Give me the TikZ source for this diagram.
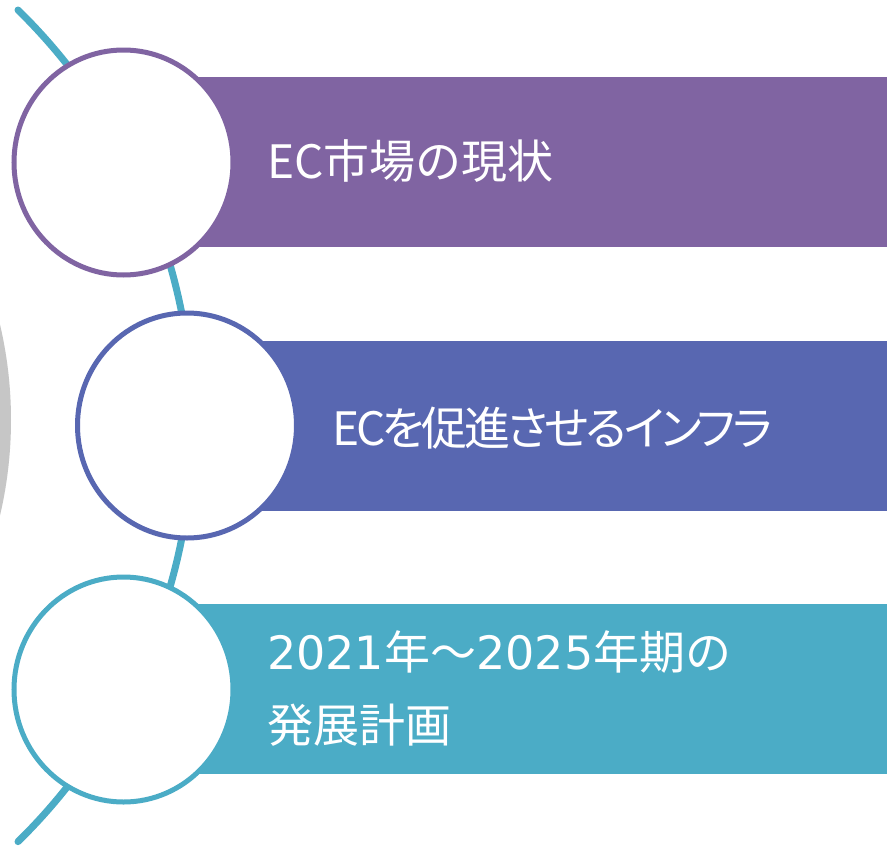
\documentclass[tikz,border=0pt]{standalone}
\usepackage{fontspec}
\newfontfamily\cjk{Noto Sans CJK JP}
\newfontfamily\cjkp[RawFeature=+palt, LetterSpace=-7]{Noto Sans CJK JP}
\newfontfamily\lat{DejaVu Sans}
\usetikzlibrary{shapes.geometric}
\definecolor{cpurple}{HTML}{8064A2}
\definecolor{cblue}{HTML}{5867B1}
\definecolor{cteal}{HTML}{4BACC6}
\definecolor{cgray}{HTML}{C6C6C6}
\tikzset{
  band/.style={draw=none, fill=#1, minimum height=170pt, inner sep=0pt, anchor=west},
  ring/.style={ellipse, draw=#1, line width=5pt, fill=white, minimum width=219pt, minimum height=225pt, inner sep=0pt},
  label/.style={text=white, font=\cjk\fontsize{46}{73}\selectfont, anchor=west, inner sep=0pt, align=left},
  spine/.style={draw=cteal, line width=7pt, line cap=round}
}
\begin{document}
\begin{tikzpicture}[x=1pt,y=-1pt]
\useasboundingbox (0,0) rectangle (891,846);
\fill[white] (0,0) rectangle (891,846);
\begin{scope}
  \clip (0,0) rectangle (891,846);
  \fill[cgray] (-405,420) circle[radius=416];
\end{scope}
% teal spine arc
\coordinate (arcTop) at (18,10);
\draw[spine] (arcTop) arc[start angle=-45.6, end angle=45.6, radius=582];
% bands
\node[band=cpurple, minimum width=764pt] (b1) at (123,162) {};
\node[band=cblue, minimum width=700pt] (b2) at (187,426) {};
\node[band=cteal, minimum width=764pt] (b3) at (123,689) {};
% circles
\node[ring=cpurple] (c1) at (123.5,162.5) {};
\node[ring=cblue] (c2) at (187,425.5) {};
\node[ring=cteal] (c3) at (123.5,689.5) {};
% labels
\node[label] (t1) at (267,161) {EC市場の現状};
\node[label, font=\cjkp\fontsize{46}{73}\selectfont] (t2) at (332,428) {ECを促進させるインフラ};
\node[label] (t3) at (267,689) {{\lat 2021}年～{\lat 2025}年期の\\発展計画};
\end{tikzpicture}
\end{document}
